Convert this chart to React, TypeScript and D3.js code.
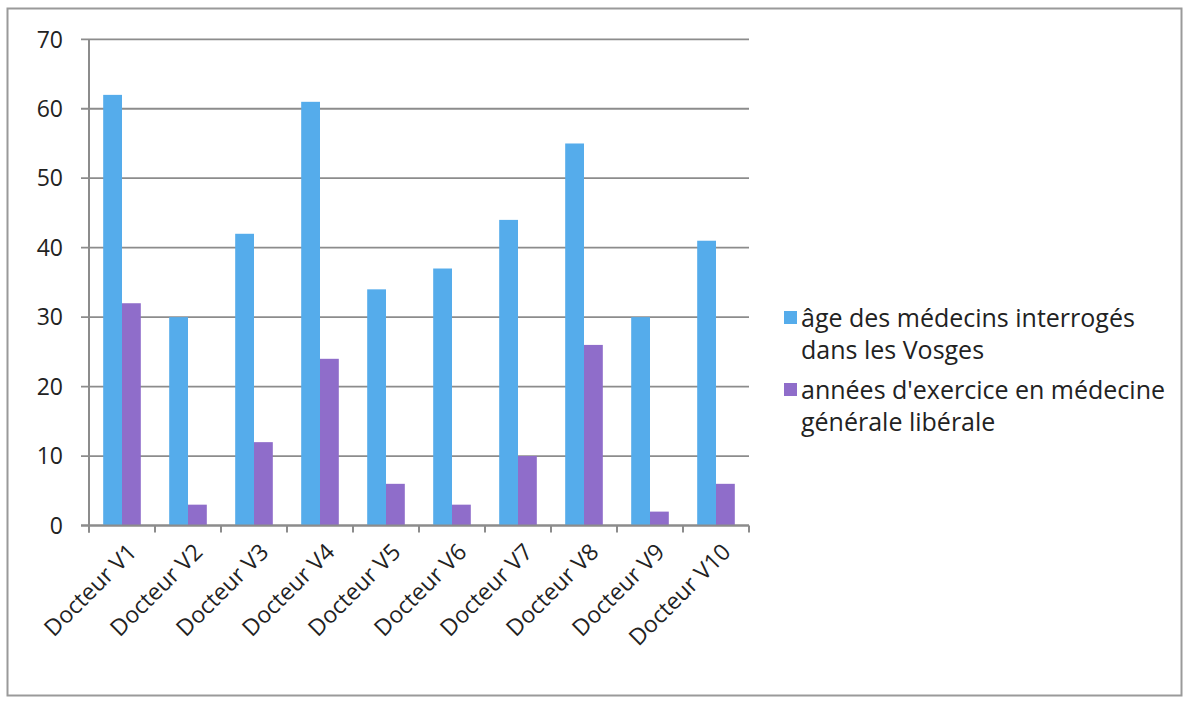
import React from "react";
import * as d3 from "d3";

const categories = ["Docteur V1", "Docteur V2", "Docteur V3", "Docteur V4", "Docteur V5", "Docteur V6", "Docteur V7", "Docteur V8", "Docteur V9", "Docteur V10"];
const ageValues = [62, 30, 42, 61, 34, 37, 44, 55, 30, 41];
const exerciceValues = [32, 3, 12, 24, 6, 3, 10, 26, 2, 6];
const seriesNames = ["âge des médecins interrogés|dans les Vosges", "années d'exercice en médecine|générale libérale"];
const yTicks = [0, 10, 20, 30, 40, 50, 60, 70];

const W = 1186, H = 702;
const left = 89, right = 749, top = 39.3, bottom = 525.5;
const BLUE = "#55aceb";
const PURPLE = "#8f6dca";
const GRID = "#8c8c8c";
const FONT = "Open Sans, sans-serif";

export default function App() {
  const x = d3.scaleBand<string>().domain(categories).range([left, right]).paddingInner(0.43).paddingOuter(0.215);
  const x1 = d3.scaleBand<string>().domain(["a", "b"]).range([0, x.bandwidth()]);
  const y = d3.scaleLinear().domain([0, 70]).range([bottom, top]);
  const step = x.step();
  const colors = [BLUE, PURPLE];
  const series = [ageValues, exerciceValues];

  return (
    <svg width={W} height={H} style={{ position: "absolute", left: 0, top: 0, background: "#fff" }}>
      <rect x={7.5} y={8.5} width={1174} height={687} fill="#fff" stroke="#9a9a9a" strokeWidth={2} />
      {yTicks.map((t) => (
        <g key={t}>
          <line x1={left - 8} x2={right} y1={y(t)} y2={y(t)} stroke={GRID} strokeWidth={1.8} />
          <text x={63} y={y(t)} dy="0.36em" textAnchor="end" fontFamily={FONT} fontSize={23} fill="#222">{t}</text>
        </g>
      ))}
      {categories.map((c, i) => (
        <g key={c}>
          {series.map((s, k) => (
            <rect key={k} x={(x(c) as number) + (x1(k === 0 ? "a" : "b") as number)} y={y(s[i])} width={x1.bandwidth()} height={y(0) - y(s[i])} fill={colors[k]} />
          ))}
        </g>
      ))}
      <line x1={left} x2={left} y1={top} y2={bottom + 7} stroke={GRID} strokeWidth={2} />
      <line x1={left - 8} x2={right} y1={bottom} y2={bottom} stroke={GRID} strokeWidth={2} />
      {d3.range(categories.length + 1).map((i) => (
        <line key={i} x1={left + i * step} x2={left + i * step} y1={bottom} y2={bottom + 7} stroke={GRID} strokeWidth={2} />
      ))}
      {categories.map((c) => {
        const cx = (x(c) as number) + x.bandwidth() / 2 + 16;
        const cy = bottom + 28;
        return (
          <text key={c} x={cx} y={cy} textAnchor="end" fontFamily={FONT} fontSize={23} fill="#222" transform={`rotate(-45 ${cx} ${cy})`}>{c}</text>
        );
      })}
      {seriesNames.map((n, k) => {
        const lines = n.split("|");
        const y0 = 318 + k * 72;
        return (
          <g key={k}>
            <rect x={784} y={y0 - 7} width={13} height={13} fill={colors[k]} />
            {lines.map((l, j) => (
              <text key={j} x={801} y={y0 + j * 32} dy="0.35em" fontFamily={FONT} fontSize={25} fill="#222">{l}</text>
            ))}
          </g>
        );
      })}
    </svg>
  );
}
